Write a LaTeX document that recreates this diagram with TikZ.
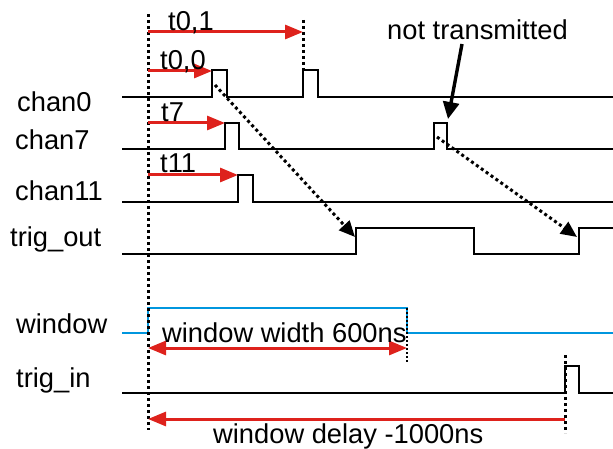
\documentclass[tikz,border=0pt]{standalone}
\usepackage{fontspec}
\setmainfont{Liberation Sans}
\usetikzlibrary{arrows.meta}
\definecolor{sigred}{RGB}{222,34,28}
\definecolor{sigblue}{RGB}{0,150,222}
\begin{document}
\begin{tikzpicture}[x=1pt,y=-1pt,
  sig/.style={line width=2.6pt,black,line join=miter},
  winsig/.style={line width=2.6pt,sigblue},
  lbl/.style={anchor=base west,inner sep=0pt,font=\fontsize{27.3}{31}\selectfont},
  guide/.style={line width=3pt,dash pattern=on 3pt off 3pt},
  thinguide/.style={line width=1.8pt,dash pattern=on 2pt off 2pt},
  redarr/.style={line width=3pt,sigred,-{Triangle[length=18pt,width=14pt]}},
  redboth/.style={line width=3pt,sigred,{Triangle[length=18pt,width=14pt]}-{Triangle[length=18pt,width=14pt]}},
  dotarr/.style={line width=3pt,dash pattern=on 3pt off 3pt,-{Triangle[length=16pt,width=14pt]}},
  blkarr/.style={line width=3.4pt,-{Triangle[length=17pt,width=16pt]}}
]
\useasboundingbox (0,0) rectangle (613,449);

% labels
\node[lbl] (lc0) at (17,112) {chan0};
\node[lbl] (lc7) at (15,150) {chan7};
\node[lbl] (lc11) at (15,201) {chan11};
\node[lbl] (ltrig) at (10,247) {trig\_out};
\node[lbl] (lwin) at (16,333) {window};
\node[lbl] (ltin) at (16,387) {trig\_in};

% waveforms
\draw[sig] (122,97) -- (212,97) -- (212,70) -- (227,70) -- (227,97) -- (303,97) -- (303,70) -- (318,70) -- (318,97) -- (613,97);
\draw[sig] (122,149) -- (225,149) -- (225,123) -- (239,123) -- (239,149) -- (434,149) -- (434,123) -- (447,123) -- (447,149) -- (613,149);
\draw[sig] (122,202) -- (238,202) -- (238,175) -- (253,175) -- (253,202) -- (613,202);
\draw[sig] (122,254) -- (356,254) -- (356,228) -- (474,228) -- (474,254) -- (579,254) -- (579,228) -- (613,228);
\draw[winsig] (122,333) -- (148,333) -- (148,308) -- (407,308) -- (407,333) -- (613,333);
\draw[sig] (122,393) -- (565,393) -- (565,366) -- (579,366) -- (579,393) -- (613,393);

% guide coordinates
\coordinate (g0top) at (148,14);
\coordinate (g0bot) at (148,430);
\coordinate (g1top) at (303,20);
\coordinate (g1bot) at (303,70);
\coordinate (g2top) at (407,308);
\coordinate (g2bot) at (407,362);
\coordinate (g3top) at (565,355);
\coordinate (g3bot) at (565,433);
\draw[guide] (g0top) -- (g0bot);
\draw[guide] (g1top) -- (g1bot);
\draw[thinguide] (g2top) -- (g2bot);
\draw[guide] (g3top) -- (g3bot);

% timing arrows
\coordinate (a01s) at (148,32);  \coordinate (a01e) at (303,32);
\coordinate (a00s) at (148,71);  \coordinate (a00e) at (212,71);
\coordinate (a7s) at (148,123);  \coordinate (a7e) at (225,123);
\coordinate (a11s) at (148,175); \coordinate (a11e) at (238,175);
\coordinate (aws) at (148,348);  \coordinate (awe) at (407,348);
\coordinate (ads) at (565,419);  \coordinate (ade) at (148,419);
\draw[redarr] (a01s) -- (a01e);
\draw[redarr] (a00s) -- (a00e);
\draw[redarr] (a7s) -- (a7e);
\draw[redarr] (a11s) -- (a11e);
\draw[redboth] (aws) -- (awe);
\draw[redarr] (ads) -- (ade);

\node[lbl] (t01) at (168,31) {t0,1};
\node[lbl] (t00) at (160,70) {t0,0};
\node[lbl] (t7) at (161,122) {t7};
\node[lbl] (t11) at (160,173) {t11};

% causal arrows
\coordinate (p0) at (215,85);  \coordinate (r1) at (355,237);
\coordinate (p7) at (437,137); \coordinate (r2) at (577,237);
\draw[dotarr] (p0) -- (r1);
\draw[dotarr] (p7) -- (r2);

\node[lbl] (nt) at (387,40) {not transmitted};
\coordinate (ntstart) at (462,44);
\coordinate (ntend) at (448,119);
\draw[blkarr] (ntstart) -- (ntend);

\node[lbl] (ww) at (162,342) {window width 600ns};
\node[lbl] (wd) at (213,443) {window delay -1000ns};
\end{tikzpicture}
\end{document}
